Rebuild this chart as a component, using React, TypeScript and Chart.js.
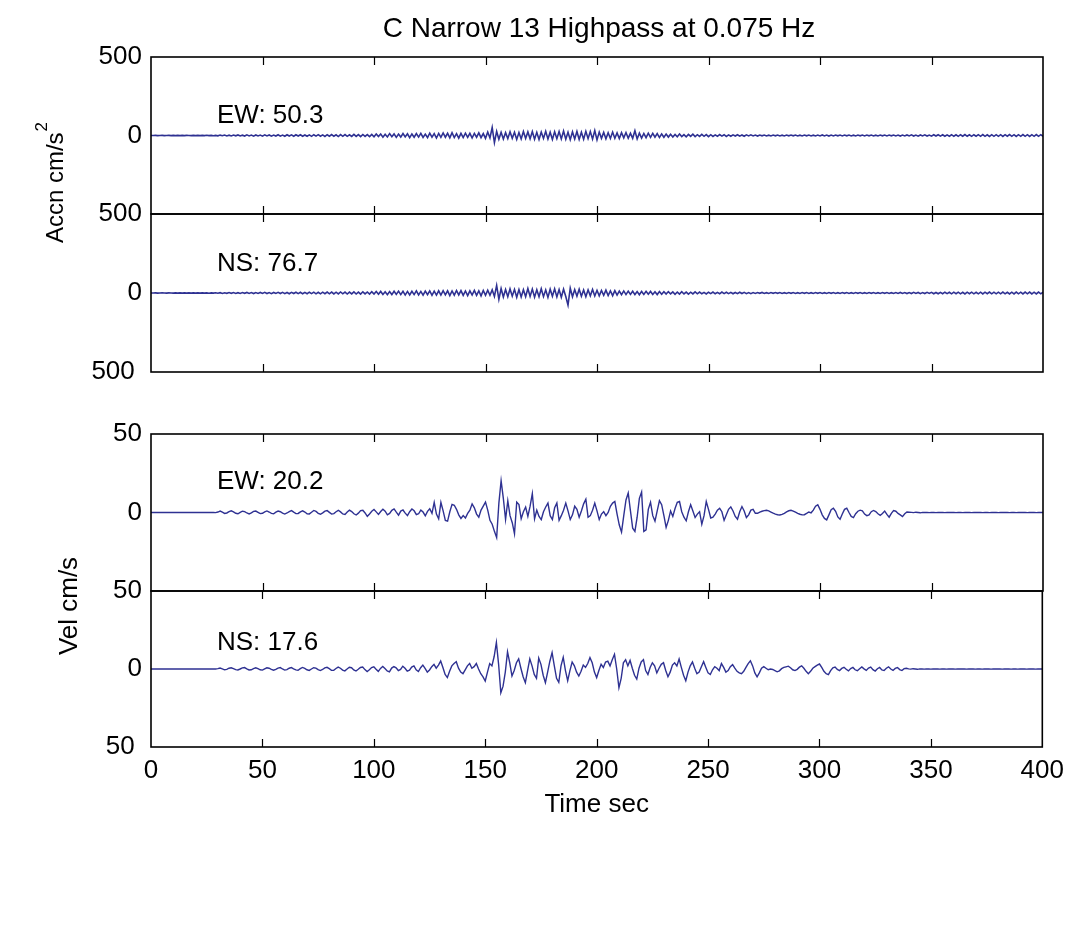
import React, { useEffect, useRef } from 'react';
import { Chart, registerables } from 'chart.js';

Chart.register(...registerables);

// ---------------- data (1 sample per second, 0 .. 400 s) ----------------
const SAMPLE_INTERVAL_S = 1;
const X_TICKS = [0, 50, 100, 150, 200, 250, 300, 350, 400];
const ACC_TICKS = [-500, 0, 500];
const VEL_TICKS = [-50, 0, 50];

const TITLE = 'C Narrow 13 Highpass at 0.075 Hz';
const X_TITLE = 'Time sec';
const ACC_LABEL = 'Accn cm/s';
const ACC_LABEL_SUP = '2';
const VEL_LABEL = 'Vel cm/s';
const PANEL_LABELS = ['EW: 50.3', 'NS: 76.7', 'EW: 20.2', 'NS: 17.6'];

const ACC_EW = [
  0, 0, 0.5, -0.5, 0, 0.5, -0.5, 0, 0.5, -0.5,
  0.5, -0.5, 1, -0.5, 0.5, -1, 0.5, 0, -0.5, 1,
  -1, 1, -0.5, 1, -1, 1.5, -1, 1, -1.5, 1,
  -2, 2.5, -1.5, 3, -2.5, 2, -3, 2.5, -2, 3.5,
  -3, 2, -3.5, 4, -2.5, 3, -4, 3.5, -3, 2.5,
  -4, 4.5, -3, 3.5, -4.5, 3, -3.5, 4.5, -4, 3,
  -4.5, 5, -3.5, 4, -5, 4.5, -3, 5, -4.5, 3.5,
  -5, 4, -5.5, 5, -4, 5.5, -4.5, 4, -6, 5,
  -4.5, 6, -5, 4.5, -6.5, 5.5, -5, 6, -5.5, 4.5,
  -6, 7, -5.5, 6, -7, 6.5, -6, 5.5, -7.5, 7,
  -8, 10, -7, 9, -11, 8, -9, 12, -8, 10,
  -12, 9, -10, 13, -9, 11, -14, 10, -11, 12,
  -10, 14, -12, 9, -13, 15, -11, 12, -16, 13,
  -12, 16, -11, 14, -15, 18, -13, 12, -17, 14,
  -13, 15, -12, 14, -16, 13, -11, 17, -14, 12,
  -18, 22, -16, 50.3, -45, 26, -24, 20, -22, 18,
  -20, 24, -18, 21, -25, 19, -22, 26, -19, 23,
  -21, 25, -24, 20, -26, 22, -19, 27, -23, 21,
  -25, 24, -20, 26, -22, 28, -24, 21, -27, 23,
  -22, 26, -25, 21, -24, 27, -20, 25, -23, 32,
  -28, 22, -18, 20, -21, 17, -19, 22, -18, 16,
  -20, 18, -15, 19, -17, 14, -18, 30, -22, 15,
  -16, 13, -14, 15, -12, 14, -11, 12, -13, 10,
  -11, 9, -10, 8, -9, 7, -8, 9, -7, 6,
  -8, 7, -6, 8, -7, 5, -6, 7, -5, 6,
  -7, 5, -6, 4, -5, 6, -4, 5, -6, 4,
  -5, 4, -3, 5, -4, 3, -5, 4, -3, 4,
  -3, 2.5, -3.5, 3, -2, 3, -2.5, 2, -3, 2.5,
  -2, 3, -2.5, 2, -3, 2.5, -2, 3, -2, 2.5,
  -3, 2, -2.5, 3, -2, 2.5, -3, 2, -2.5, 3,
  -2.5, 3.5, -3, 2.5, -3.5, 3, -2.5, 3, -2, 2.5,
  -3, 2.5, -2, 3, -2.5, 2, -3, 2.5, -2, 3,
  -2.5, 3, -2, 2.5, -3, 2, -2.5, 3, -2, 2.5,
  -3, 2.5, -2, 3, -2.5, 3, -3.5, 2.5, -3, 3.5,
  -3, 4, -3.5, 3, -4, 3.5, -3, 4, -3.5, 3,
  -4, 4.5, -3.5, 5, -4, 4.5, -5, 4, -4.5, 5,
  -5, 4.5, -5.5, 5, -4.5, 6, -5, 4.5, -5.5, 5,
  -4.5, 5.5, -5, 6, -5.5, 4.5, -6, 5, -5, 5.5,
  -5.5, 5, -6, 5.5, -4.5, 6, -5, 5.5, -6, 5,
  -5, 6, -5.5, 5, -6, 5.5, -5, 6, -5.5, 5,
  -5,
];

const ACC_NS = [
  0, 0, 0.5, -0.5, 0, 0.5, 0, -0.5, 0.5, 0,
  -0.5, 0.5, -0.5, 1, -0.5, 0.5, -1, 0.5, -0.5, 1,
  -1, 0.5, -1, 1, -0.5, 1, -1.5, 1, -1, 1.5,
  -1.5, 2, -2.5, 1.5, -2, 3, -2, 2.5, -3, 2,
  -2.5, 3, -2, 3.5, -3, 2.5, -3.5, 3, -2.5, 3.5,
  -3, 4, -3.5, 3, -4, 3.5, -3, 4.5, -3.5, 4,
  -4, 3.5, -4.5, 4, -3.5, 5, -4, 4.5, -5, 4,
  -4.5, 5, -4, 5.5, -5, 4.5, -5.5, 5, -4.5, 6,
  -5, 5.5, -6, 5, -5.5, 6.5, -5, 6, -6.5, 5.5,
  -6, 7, -6.5, 6, -7, 7.5, -6, 6.5, -7, 8,
  -7, 9, -8, 10, -9, 8, -11, 9, -10, 11,
  -9, 12, -10, 11, -13, 10, -12, 11, -10, 13,
  -12, 10, -14, 12, -11, 13, -15, 12, -13, 14,
  -13, 15, -12, 14, -16, 13, -14, 16, -12, 15,
  -15, 13, -16, 14, -13, 17, -15, 14, -18, 16,
  -15, 18, -14, 20, -22, 48, -40, 28, -25, 22,
  -24, 26, -20, 23, -27, 22, -25, 21, -23, 28,
  -22, 25, -26, 21, -24, 27, -23, 20, -28, 24,
  -21, 26, -25, 22, -27, 24, -22, -76.7, 30, -24,
  22, -20, 24, -21, 19, -23, 20, -18, 22, -19,
  17, -18, 16, -15, 18, -16, 14, -17, 15, -13,
  12, -11, 13, -10, 12, -9, 11, -10, 9, -11,
  10, -9, 11, -8, 10, -9, 8, -10, 9, -8,
  8, -7, 9, -6, 7, -8, 6, -7, 8, -6,
  6, -7, 5, -6, 7, -5, 6, -5, 4, -6,
  5, -4, 6, -5, 4, -5, 6, -4, 5, -4,
  4, -5, 3, -4, 5, -3, 4, -4, 3, -4,
  3, -2.5, 3, -2, 3.5, -2.5, 2, -3, 2.5, -2,
  2.5, -2, 3, -2.5, 2, -3, 2.5, -2, 3, -2.5,
  2, -3, 2.5, -2, 3, -2.5, 2, -3, 2.5, -2,
  3, -2.5, 2, -3, 2.5, -2, 3, -2.5, 2, -3,
  2.5, -2, 3, -2.5, 2, -3, 2.5, -2, 3, -2.5,
  2, -2.5, 3, -2, 2.5, -3, 2, -2.5, 3, -2,
  2.5, -3, 2, -2.5, 3, -2.5, 3.5, -3, 2.5, -3.5,
  3, -3.5, 4, -3, 3.5, -4, 3, -3.5, 4, -3,
  4, -4.5, 3.5, -5, 4, -4.5, 5, -4, 4.5, -5,
  5, -4.5, 5.5, -5, 4.5, -6, 5, -4.5, 5.5, -5,
  4.5, -5.5, 5, -6, 5.5, -4.5, 6, -5, 5, -5.5,
  5.5, -5, 6, -5.5, 4.5, -6, 5, -5.5, 6, -5,
  5, -6, 5.5, -5, 6, -5.5, 5, -6, 5.5, -5,
  5,
];

const VEL_EW = [
  0, 0, 0, 0, 0, 0, 0, 0, 0, 0,
  0, 0, 0, 0, 0, 0, 0, 0, 0, 0,
  0, 0, 0, 0, 0, 0, 0, 0, 0.1, -0.1,
  0.3, 0.9, 0.2, -0.6, -0.3, 0.5, 1.1, 0.4, -0.5, -0.8,
  0.1, 0.8, 0.6, -0.3, -0.9, -0.2, 0.7, 0.9, 0.1, -0.7,
  -0.5, 0.4, 1.0, 0.3, -0.6, -0.8, 0.2, 0.9, 0.5, -0.4,
  -1.0, -0.3, 0.6, 1.2, 0.2, -0.7, -0.6, 0.4, 1.1, 0.3,
  -0.8, -0.9, 0.2, 1.3, 0.7, -0.5, -1.1, -0.2, 0.9, 1.2,
  0.1, -1.0, -0.7, 0.5, 1.4, 0.4, -0.9, -1.3, 0.3, 1.5,
  0.6, -0.8, -1.6, -0.4, 1.2, 1.4, -0.3, -2.4, -0.9, 0.8,
  1.9, 0.4, -1.2, 0.6, 2.1, 0.8, -1.5, -0.6, 1.4, 2.3,
  0.2, -1.7, 0.9, 1.6, -0.4, -1.9, 0.5, 2.2, 1.1, -1.3,
  -0.8, 1.5, 0.3, -2.1, 0.7, 2.4, -0.5, 6.5, -1.0, -4.0,
  6.4, 1.0, -5.0, -5.5, 0.5, 5.2, 4.6, 2.0, -1.5, -3.8,
  -2.0, -3.5, -0.6, 1.5, 5.5, 3.0, -1.0, -3.0, 1.5, 4.0,
  6.6, 1.5, -5.0, -7.5, -12.0, -16.0, 6.0, 20.2, 9.0, -4.5,
  7.5, -2.0, -6.5, -13.6, 6.6, 5.0, -4.0, 0.5, 3.5, -2.5,
  4.0, 12.0, -4.0, 1.5, -2.5, -4.5, 0.5, 3.5, 6.0, -2.0,
  -4.5, 3.0, 6.0, -5.0, -2.0, 1.5, 6.0, 1.0, -4.5, -1.5,
  4.0, 2.0, -3.0, 1.0, 5.5, 8.5, -3.0, -2.0, 1.5, 6.0,
  1.0, -4.5, -1.0, 0.5, -2.0, 0.0, 4.0, 6.0, 7.0, -1.0,
  -8.0, -12.5, -2.0, 8.0, 12.4, 1.0, -10.0, -12.0, -3.0, 9.0,
  13.0, -12.0, -11.0, 2.0, 6.5, -2.0, -5.5, 1.0, 7.5, 5.0,
  -2.0, -9.5, -5.0, 1.0, -2.5, 2.5, 6.5, 7.0, 0.5, -3.0,
  -5.3, 0.5, 5.0, 1.0, -3.2, -1.0, 0.5, -7.5, -2.0, 7.0,
  2.0, -3.5, -3.0, -1.0, 1.5, 2.7, 0.5, -5.0, -1.5, 2.0,
  3.6, 1.0, -2.5, -4.3, 0.5, 3.8, 1.0, -3.2, -1.5, 1.5,
  2.0, -0.5, -0.5, 0.3, 0.8, 1.2, 1.4, 1.0, 0.3, -0.4,
  -1.0, -1.4, -1.6, -1.2, -0.5, 0.4, 1.1, 1.4, 0.9, 0.2,
  -0.5, -1.1, -1.5, -1.4, -0.6, 0.3, -0.2, 1.5, 4.0, 4.9,
  2.0, -1.5, -3.8, -4.7, -1.5, 1.8, 2.7, 0.8, -2.8, -4.3,
  -1.0, 2.0, 2.7, 0.0, -2.5, -3.2, -0.8, 0.8, 1.5, 1.0,
  -1.0, -2.0, -1.5, 0.5, 1.3, 0.6, -0.8, -1.8, -0.6, 0.9,
  -1.2, -3.0, -0.5, 1.2, 0.8, -0.6, -1.5, -2.6, -0.8, 0.3,
  0.2, 0.1, -0.1, 0.2, 0.0, -0.2, 0.1, 0.0, 0.1, -0.1,
  0.0, 0.1, -0.1, 0.0, 0.1, 0.0, -0.1, 0.1, 0.0, 0.0,
  0.1, -0.1, 0.0, 0.1, -0.1, 0.0, 0.0, 0.1, -0.1, 0.0,
  0.0, 0.1, 0.0, -0.1, 0.1, 0.0, -0.1, 0.0, 0.1, 0.0,
  -0.1, 0.0, 0.1, 0.0, 0.0, -0.1, 0.1, 0.0, -0.1, 0.1,
  0.0, 0.0, 0.1, -0.1, 0.0, 0.1, 0.0, -0.1, 0.0, 0.1,
  0.0,
];

const VEL_NS = [
  0, 0, 0, 0, 0, 0, 0, 0, 0, 0,
  0, 0, 0, 0, 0, 0, 0, 0, 0, 0,
  0, 0, 0, 0, 0, 0, 0, 0, 0.1, 0,
  0.2, 0.6, 0.1, -0.5, -0.2, 0.5, 0.8, 0.2, -0.4, -0.6,
  0.0, 0.7, 0.9, 0.1, -0.6, -0.5, 0.3, 0.8, 0.2, -0.5,
  -0.7, 0.1, 0.8, 0.5, -0.3, -0.8, -0.2, 0.6, 0.9, 0.0,
  -0.7, -0.4, 0.5, 0.9, 0.1, -0.6, -0.8, 0.2, 1.0, 0.4,
  -0.5, -0.9, 0.0, 0.8, 0.6, -0.4, -1.0, -0.3, 0.7, 1.1,
  0.2, -0.8, -0.9, 0.3, 1.2, 0.5, -0.7, -1.2, 0.0, 1.1,
  0.8, -0.6, -1.3, -0.2, 1.0, 1.3, -0.4, -1.6, -0.5, 0.9,
  1.4, -0.2, -1.5, 0.4, 1.6, 0.3, -1.2, -1.8, 0.6, 1.5,
  0.7, -1.0, -0.3, 1.8, 0.5, -1.4, -0.8, 1.2, 2.0, -0.5,
  -1.6, 0.8, 2.5, 0.4, -2.0, -0.6, 1.5, 3.0, 0.5, 2.5,
  5.1, 1.0, -3.5, -5.5, -1.5, 2.0, 3.5, 4.7, 0.5, -2.0,
  -3.0, -0.5, 2.0, 3.5, 0.5, 1.5, 3.5, 0.0, -3.0, -5.0,
  -7.7, -2.0, 3.5, 2.0, 8.0, 17.0, 3.0, -15.2, -11.0, -2.0,
  11.0, 4.0, -4.5, -1.0, 4.0, 6.5, 0.5, -5.0, -8.8, -1.0,
  6.5, 2.0, -3.5, -6.0, 7.0, 3.0, -4.0, -8.8, -2.0, 5.0,
  10.5, 2.0, -6.0, -8.5, 2.0, 7.5, -1.0, -7.5, -1.0, 4.5,
  2.0, -2.0, -4.5, -1.5, 2.5, 1.0, 3.5, 7.3, 4.0, -2.0,
  -5.5, -1.0, 3.0, 1.0, 4.5, 5.0, 2.0, 6.0, 9.4, 0.0,
  -12.0, -6.0, 4.0, 6.0, 2.0, 5.5, 0.5, -4.0, -6.5, 0.5,
  4.5, 6.0, -1.0, -3.5, 1.0, 4.0, 2.0, -2.5, 0.5, 3.0,
  4.0, -1.0, -5.0, -2.0, 2.5, 4.0, 2.0, 6.4, 1.0, -4.0,
  -7.5, -2.0, 2.0, 4.5, 0.5, -3.0, -2.0, 1.5, 4.7, 1.0,
  -2.5, -3.5, -0.5, 1.5, 0.5, -1.0, 3.5, 1.0, -2.0, -1.0,
  1.5, 2.8, 0.5, -1.5, -2.5, -3.0, -1.5, 1.0, 3.5, 5.3,
  2.0, -2.5, -5.0, -2.5, 0.5, 1.5, 0.5, -0.5, 0.0, -0.3,
  -1.0, -1.8, -1.2, 0.2, 1.0, 1.4, 1.8, 0.8, -0.5, -1.0,
  -0.2, 1.2, 2.0, 0.5, -1.5, -3.0, -1.5, 0.5, 1.5, 2.5,
  3.2, 1.0, -1.5, -3.0, -3.6, -1.0, 0.8, 1.2, -0.3, -1.0,
  0.4, 1.1, -0.2, -1.2, 0.3, 1.0, -0.5, -1.1, 0.2, 1.3,
  0.1, -0.9, 0.6, 1.2, -0.4, -1.3, 0.2, 1.0, -0.6, -1.0,
  0.5, 1.4, 0.0, -0.9, 0.4, 0.9, -0.4, -1.0, 0.2, 0.5,
  0.1, -0.1, 0.2, 0.0, -0.2, 0.1, 0.0, -0.1, 0.1, 0.0,
  -0.1, 0.1, 0.0, 0.1, -0.1, 0.0, 0.1, -0.1, 0.0, 0.1,
  0.0, -0.1, 0.1, 0.0, 0.0, 0.1, -0.1, 0.0, 0.1, 0.0,
  -0.1, 0.0, 0.1, -0.1, 0.0, 0.1, 0.0, -0.1, 0.0, 0.1,
  0.0, 0.1, -0.1, 0.0, 0.1, 0.0, -0.1, 0.1, 0.0, -0.1,
  0.1, 0.0, 0.0, -0.1, 0.1, 0.0, 0.1, -0.1, 0.0, 0.1,
  0.0,
];

// ---------------- layout / style ----------------
const W = 1072;
const H = 928;
const AXIS_LEFT = 151;
const AXIS_RIGHT = 1043;
const X_AXIS_H = 73;
const FONT_FAMILY = "'Liberation Sans', Arial, Helvetica, sans-serif";
const FONT_SIZE = 26;
const TITLE_SIZE = 28;
const LINE_COLOR = '#2e3192';

type Panel = {
  values: number[];
  ticks: number[];
  top: number;
  bottom: number;
  showX: boolean;
  hideLower: boolean;
  label: string;
  labelBaseline: number;
  lineWidth: number;
  title?: boolean;
  group?: { text: string; sup?: string; x: number; cy: number; size: number };
};

const PANELS: Panel[] = [
  { values: ACC_EW, ticks: ACC_TICKS, top: 57, bottom: 214, showX: false, hideLower: true, label: PANEL_LABELS[0], labelBaseline: 123, lineWidth: 1.6, title: true,
    group: { text: ACC_LABEL, sup: ACC_LABEL_SUP, x: 63, cy: 182.5, size: 24 } },
  { values: ACC_NS, ticks: ACC_TICKS, top: 214, bottom: 372, showX: false, hideLower: false, label: PANEL_LABELS[1], labelBaseline: 271, lineWidth: 1.6 },
  { values: VEL_EW, ticks: VEL_TICKS, top: 434, bottom: 591, showX: false, hideLower: true, label: PANEL_LABELS[2], labelBaseline: 489, lineWidth: 1.4,
    group: { text: VEL_LABEL, x: 77, cy: 606, size: 26 } },
  { values: VEL_NS, ticks: VEL_TICKS, top: 591, bottom: 747, showX: true, hideLower: false, label: PANEL_LABELS[3], labelBaseline: 650, lineWidth: 1.4 },
];

const decorPlugin = {
  id: 'decor',
  afterDraw(chart: any, _args: any, opts: any) {
    const { ctx, chartArea: a, scales } = chart;
    const xs = scales.x;
    ctx.save();
    // frame
    ctx.strokeStyle = '#000';
    ctx.lineWidth = 1.6;
    ctx.strokeRect(a.left, a.top, a.right - a.left, a.bottom - a.top);
    // inward tick marks top & bottom
    ctx.beginPath();
    X_TICKS.forEach((v) => {
      if (v <= X_TICKS[0] || v >= X_TICKS[X_TICKS.length - 1]) return;
      const px = Math.round(xs.getPixelForValue(v)) + 0.5;
      ctx.moveTo(px, a.top);
      ctx.lineTo(px, a.top + 8);
      ctx.moveTo(px, a.bottom);
      ctx.lineTo(px, a.bottom - 8);
    });
    ctx.lineWidth = 1.2;
    ctx.stroke();

    ctx.fillStyle = '#000';
    ctx.font = `${FONT_SIZE}px ${FONT_FAMILY}`;
    ctx.textAlign = 'left';
    ctx.textBaseline = 'alphabetic';
    ctx.fillText(opts.label, 217, opts.labelBaseline);

    if (opts.title) {
      ctx.font = `${TITLE_SIZE}px ${FONT_FAMILY}`;
      ctx.textAlign = 'center';
      ctx.fillText(TITLE, (a.left + a.right) / 2 + 2, 37);
    }

    if (opts.group) {
      const g = opts.group;
      const mainFont = `${g.size}px ${FONT_FAMILY}`;
      const supFont = `17px ${FONT_FAMILY}`;
      ctx.font = mainFont;
      const wMain = ctx.measureText(g.text).width;
      let wSup = 0;
      if (g.sup) {
        ctx.font = supFont;
        wSup = ctx.measureText(g.sup).width + 1;
      }
      const total = wMain + wSup;
      ctx.translate(g.x, g.cy);
      ctx.rotate(-Math.PI / 2);
      ctx.textAlign = 'left';
      ctx.font = mainFont;
      ctx.fillText(g.text, -total / 2, 0);
      if (g.sup) {
        ctx.font = supFont;
        ctx.fillText(g.sup, -total / 2 + wMain + 1, -16);
      }
    }
    ctx.restore();
  },
};

function makeConfig(p: Panel): any {
  const font = { family: FONT_FAMILY, size: FONT_SIZE };
  const yMax = p.ticks[p.ticks.length - 1];
  return {
    type: 'line',
    data: {
      datasets: [
        {
          data: p.values.map((v, i) => ({ x: i * SAMPLE_INTERVAL_S, y: v })),
          borderColor: LINE_COLOR,
          borderWidth: p.lineWidth,
          pointRadius: 0,
          tension: 0,
          fill: false,
        },
      ],
    },
    plugins: [decorPlugin],
    options: {
      responsive: false,
      animation: false,
      events: [],
      layout: {
        padding: {
          left: 0,
          right: W - AXIS_RIGHT,
          top: p.top,
          bottom: H - p.bottom - (p.showX ? X_AXIS_H : 0),
        },
      },
      plugins: {
        legend: { display: false },
        tooltip: { enabled: false },
        decor: {
          label: p.label,
          labelBaseline: p.labelBaseline,
          title: !!p.title,
          group: p.group || null,
        },
      },
      scales: {
        x: {
          type: 'linear',
          min: X_TICKS[0],
          max: X_TICKS[X_TICKS.length - 1],
          display: p.showX,
          ticks: {
            stepSize: X_TICKS[1] - X_TICKS[0],
            font,
            color: '#000',
            padding: 8,
            maxRotation: 0,
            autoSkip: false,
          },
          grid: { display: false, drawTicks: false },
          border: { display: false },
          title: { display: p.showX, text: X_TITLE, font, color: '#000', padding: 0 },
          afterFit: (s: any) => {
            s.height = p.showX ? X_AXIS_H : 0;
          },
        },
        y: {
          type: 'linear',
          min: p.ticks[0],
          max: yMax,
          ticks: {
            stepSize: yMax,
            font,
            color: '#000',
            padding: 9,
            callback: (v: number) => {
              if (v === 0) return '0';
              if (v < 0) return p.hideLower ? '' : `${-v} `;
              return `${v}`;
            },
          },
          grid: { display: false, drawTicks: false },
          border: { display: false },
          afterFit: (s: any) => {
            s.width = AXIS_LEFT;
          },
        },
      },
    },
  };
}

export default function App() {
  const r0 = useRef<HTMLCanvasElement>(null);
  const r1 = useRef<HTMLCanvasElement>(null);
  const r2 = useRef<HTMLCanvasElement>(null);
  const r3 = useRef<HTMLCanvasElement>(null);
  const refs = [r0, r1, r2, r3];

  useEffect(() => {
    const charts = PANELS.map((p, i) => new Chart(refs[i].current as HTMLCanvasElement, makeConfig(p)));
    return () => charts.forEach((c) => c.destroy());
  }, []);

  return (
    <div style={{ position: 'absolute', left: 0, top: 0, width: W, height: H, background: '#fff' }}>
      {PANELS.map((_, i) => (
        <canvas
          key={i}
          ref={refs[i]}
          width={W}
          height={H}
          style={{ position: 'absolute', left: 0, top: 0, width: W, height: H }}
        />
      ))}
    </div>
  );
}
